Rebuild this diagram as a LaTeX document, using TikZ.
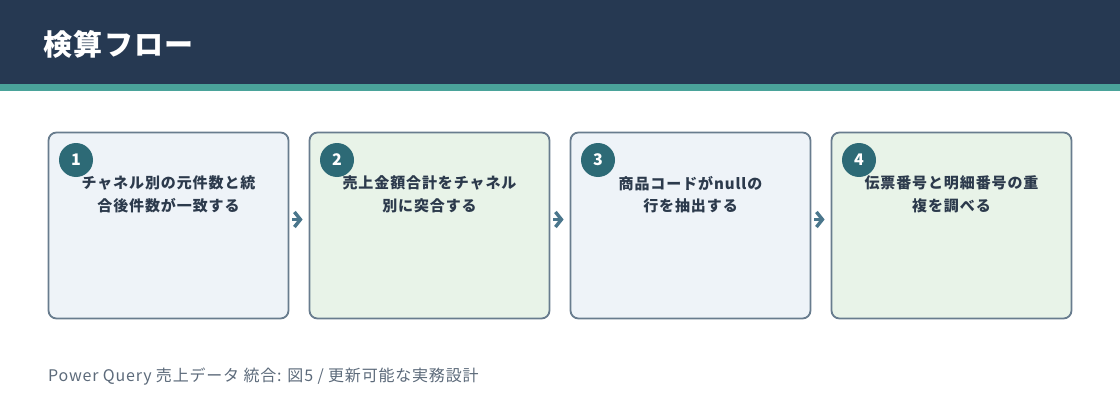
\documentclass[tikz,border=0pt]{standalone}
\usepackage{fontspec}
\setmainfont{Noto Sans CJK JP}
\usetikzlibrary{arrows.meta}
\def\gprgb#1#2#3{rgb,255:red,#1;green,#2;blue,#3}
\tikzset{
  stepbox/.style={rectangle,rounded corners=8pt,draw=\gprgb{104}{124}{142},line width=1.8pt,minimum width=240pt,minimum height=186pt,inner sep=0pt},
  stepnum/.style={circle,fill=\gprgb{45}{106}{118},text=white,minimum size=34pt,inner sep=0pt,font=\fontsize{16}{16}\selectfont\bfseries},
  steptext/.style={anchor=north,align=center,text=\gprgb{44}{58}{76},font=\fontsize{15}{22.5}\selectfont\bfseries\addfontfeature{LetterSpace=6}},
  flowarrow/.style={draw=\gprgb{74}{118}{140},line width=3.4pt,shorten <=3pt,shorten >=6pt,-{Straight Barb[length=6pt,width=15pt]}}
}

\begin{document}
\begin{tikzpicture}[x=1pt,y=-1pt]
\useasboundingbox (0,0) rectangle (1120,420);

% Put the header...
\fill[fill=\gprgb{38}{57}{82}] (0,0) rectangle (1120,84);
\fill[fill=\gprgb{74}{163}{154}] (0,84) rectangle (1120,91);
\node (title) at (43,44) [anchor=west,inner sep=0pt,text=white,font=\fontsize{29}{29}\selectfont\bfseries\addfontfeature{LetterSpace=5}] {検算フロー};

% Draw the nodes...
\node (s1) at (168.5,225.5) [stepbox,fill=\gprgb{238}{243}{248}] {};
\node (s2) at (429.5,225.5) [stepbox,fill=\gprgb{232}{243}{232}] {};
\node (s3) at (690.5,225.5) [stepbox,fill=\gprgb{238}{243}{248}] {};
\node (s4) at (951.5,225.5) [stepbox,fill=\gprgb{232}{243}{232}] {};

\node (c1) at (76,160) [stepnum] {1};
\node (c2) at (337,160) [stepnum] {2};
\node (c3) at (598,160) [stepnum] {3};
\node (c4) at (859,160) [stepnum] {4};

\node (t1) at (168.5,172.5) [steptext] {チャネル別の元件数と統\\合後件数が一致する};
\node (t2) at (429.5,172.5) [steptext] {売上金額合計をチャネル\\別に突合する};
\node (t3) at (690.5,172.5) [steptext] {商品コードがnullの\\行を抽出する};
\node (t4) at (951.5,172.5) [steptext] {伝票番号と明細番号の重\\複を調べる};

\node (foot) at (48,377) [anchor=west,inner sep=0pt,text=\gprgb{92}{106}{122},font=\fontsize{16}{16}\selectfont\addfontfeature{LetterSpace=5}] {Power Query 売上データ 統合: 図5 / 更新可能な実務設計};

% Draw the edges...
\draw[flowarrow] ([yshift=6pt]s1.east) -- ([yshift=6pt]s2.west);
\draw[flowarrow] ([yshift=6pt]s2.east) -- ([yshift=6pt]s3.west);
\draw[flowarrow] ([yshift=6pt]s3.east) -- ([yshift=6pt]s4.west);

\end{tikzpicture}
\end{document}
